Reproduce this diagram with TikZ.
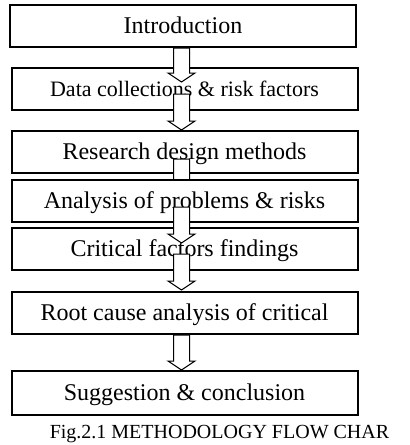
\documentclass[tikz,border=0pt]{standalone}
\usepackage{fontspec}
\setmainfont{Liberation Serif}
\usetikzlibrary{positioning,calc}

\newcommand{\hollowarrow}[2]{%
  \draw[hollow] ($(#1)+(-8,0)$) -- ($(#2)+(-8,9)$) -- ($(#2)+(-13.5,9)$) -- (#2)
    -- ($(#2)+(13.5,9)$) -- ($(#2)+(8,9)$) -- ($(#1)+(8,0)$) -- cycle;}

\begin{document}
\begin{tikzpicture}[x=0.5pt, y=0.5pt,
  box/.style={draw, fill=white, line width=1pt, minimum width=173pt, minimum height=21pt, inner sep=2pt, text height=9pt, text depth=2pt, font=\fontsize{12}{14}\selectfont},
  hollow/.style={draw, fill=white, line width=0.5pt, line join=miter},
  caption/.style={font=\fontsize{10}{12}\selectfont}
]
\useasboundingbox (0,0) rectangle (410,-445);
\node[box] (intro) at (183,-26) {Introduction};
\node[box, below=9.5pt of intro, xshift=0.75pt, font=\fontsize{11}{13}\selectfont] (data) {Data collections \& risk factors};
\node[box, below=9.5pt of data] (design) {Research design methods};
\coordinate (a1s) at ($(intro.south)+(-1.5,0)$);
\coordinate (a1t) at ($(data.north)+(-3,-15)$);
\coordinate (a2s) at ($(data.south)+(-3,17)$);
\coordinate (a2t) at ($(design.north)+(-3,0)$);
\coordinate (a3s) at ($(design.south)+(-3,15)$);
\coordinate (a3t) at ($(design.south)+(-3,-20)$);
\hollowarrow{a1s}{a1t}
\hollowarrow{a2s}{a2t}
\hollowarrow{a3s}{a3t}
\node[box, below=2.5pt of design] (analysis) {Analysis of problems \& risks};
\node[box, below=2pt of analysis] (critical) {Critical factors findings};
\node[box, below=10pt of critical] (root) {Root cause analysis of critical};
\node[box, below=17.5pt of root, minimum height=22pt] (suggest) {Suggestion \& conclusion};
\node[caption] (cap) at ($(suggest.south)+(35,-18)$) {Fig.2.1 METHODOLOGY FLOW CHAR};
\coordinate (a4s) at ($(analysis.south)+(-3,16)$);
\coordinate (a4t) at ($(critical.north)+(-3,-16)$);
\coordinate (a5s) at ($(critical.south)+(-3,17)$);
\coordinate (a5t) at ($(root.north)+(-3,1)$);
\coordinate (a6s) at ($(root.south)+(-3,0)$);
\coordinate (a6t) at ($(suggest.north)+(-3,0)$);
\hollowarrow{a4s}{a4t}
\hollowarrow{a5s}{a5t}
\hollowarrow{a6s}{a6t}
\end{tikzpicture}
\end{document}
